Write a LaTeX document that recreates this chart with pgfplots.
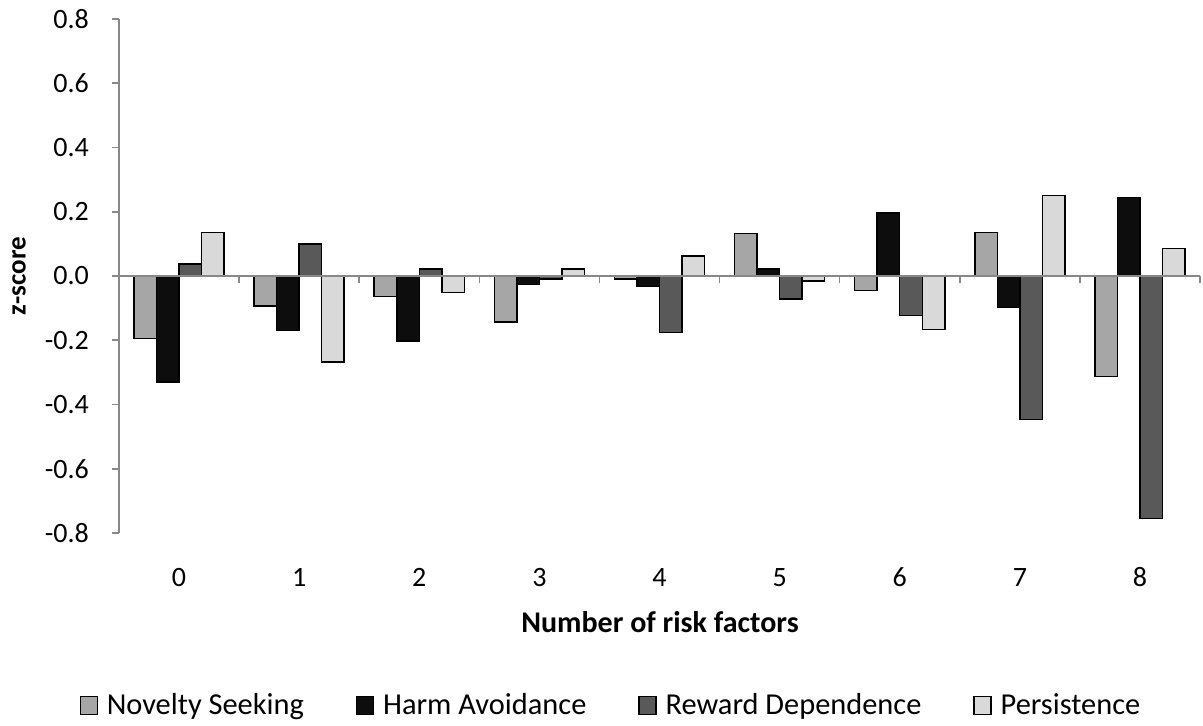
\documentclass[border=0pt]{standalone}
\usepackage{pgfplots}
\pgfplotsset{compat=1.18}
\usepackage{fontspec}
\setmainfont{Carlito}
\definecolor{cNS}{HTML}{A6A6A6}
\definecolor{cHA}{HTML}{0D0D0D}
\definecolor{cRD}{HTML}{595959}
\definecolor{cP}{HTML}{D9D9D9}
\definecolor{axgray}{HTML}{888888}
\pgfplotsset{sqlegend/.style={legend image code/.code={\draw[##1, draw=black, line width=0.6pt] (0pt,-4.5pt) rectangle (8.5pt,4.5pt);}}}
\begin{document}
\begin{tikzpicture}
\begin{axis}[
  scale only axis,
  width=540.5pt, height=257pt,
  xmin=-0.5, xmax=8.5, ymin=-0.8, ymax=0.8,
  clip=false,
  axis y line*=left, axis x line*=bottom,
  x axis line style={draw=none},
  y axis line style={draw=axgray, line width=0.8pt},
  tick align=outside,
  major tick length=3.5pt,
  ytick={-0.8,-0.6,-0.4,-0.2,0,0.2,0.4,0.6,0.8},
  major y tick style={draw=axgray, line width=0.8pt},
  xtick={0,1,2,3,4,5,6,7,8},
  major x tick style={draw=none},
  yticklabel style={/pgf/number format/fixed, /pgf/number format/fixed zerofill, /pgf/number format/precision=1, /pgf/number format/assume math mode=true},
  yticklabel style={font=\fontsize{14}{16}\selectfont, anchor=east, xshift=-8pt},
  xticklabel style={font=\fontsize{14}{16}\selectfont, anchor=base, yshift=-23.5pt},
  /pgf/number format/assume math mode=true,
  xlabel={Number of risk factors},
  xlabel style={font=\fontsize{15}{18}\selectfont\bfseries, at={(0.5005,-0.173)}, anchor=center},
  ylabel={z-score},
  ylabel style={font=\fontsize{13.5}{16}\selectfont\bfseries, at={(-0.0925,0.5)}, anchor=center},
  legend style={at={(0.456,-0.335)}, anchor=center, draw=none, fill=none,
    legend columns=4, font=\fontsize{15.2}{18}\selectfont,
    /tikz/every odd column/.append style={column sep=2.5pt},
    /tikz/every even column/.append style={column sep=24pt}},
  ybar, bar width=0.1875,
  every axis plot/.append style={draw=black, line width=0.75pt},
]
\addplot[fill=cNS, bar shift=-0.28125, sqlegend] coordinates {(0,-0.195) (1,-0.093) (2,-0.064) (3,-0.143) (4,-0.009) (5,0.132) (6,-0.045) (7,0.135) (8,-0.313)};
\addplot[fill=cHA, bar shift=-0.09375, sqlegend] coordinates {(0,-0.330) (1,-0.170) (2,-0.203) (3,-0.026) (4,-0.032) (5,0.021) (6,0.196) (7,-0.098) (8,0.245)};
\addplot[fill=cRD, bar shift=0.09375, sqlegend] coordinates {(0,0.037) (1,0.099) (2,0.021) (3,-0.009) (4,-0.176) (5,-0.071) (6,-0.123) (7,-0.446) (8,-0.755)};
\addplot[fill=cP, bar shift=0.28125, sqlegend] coordinates {(0,0.135) (1,-0.268) (2,-0.051) (3,0.021) (4,0.0625) (5,-0.015) (6,-0.166) (7,0.250) (8,0.085)};
\legend{Novelty Seeking, Harm Avoidance, Reward Dependence, Persistence}
\draw[axgray, line width=0.8pt] (axis cs:-0.5,0) -- (axis cs:8.5,0);
\pgfplotsinvokeforeach{0.5,1.5,2.5,3.5,4.5,5.5,6.5,7.5,8.5}{
  \draw[axgray, line width=0.8pt] (axis cs:#1,0) -- ++(0pt,-3.5pt);
}
\end{axis}
\pgfresetboundingbox
\path (-59.5pt,-96.5pt) rectangle (542pt,266.5pt);
\end{tikzpicture}
\end{document}
